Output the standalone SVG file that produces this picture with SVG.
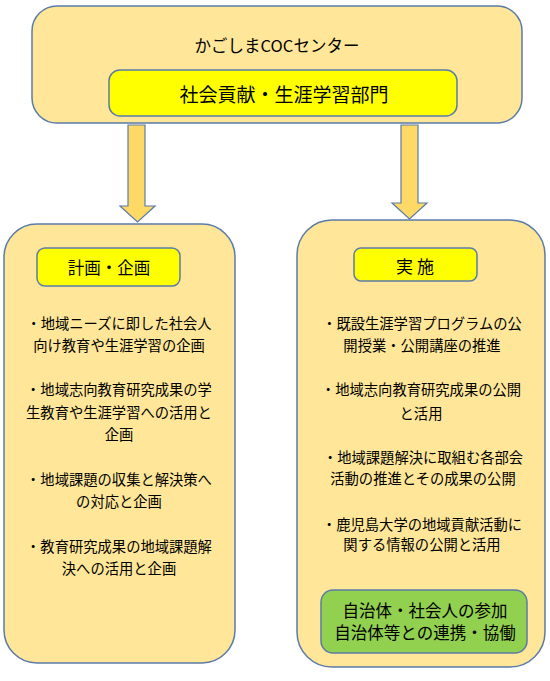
<svg xmlns="http://www.w3.org/2000/svg" width="550" height="681" viewBox="0 0 550 681">
<style>
.box{fill:#FFE699;stroke:#5B7BA8;stroke-width:1.5}
.lab{fill:#FFFF00;stroke:#5B7BA8;stroke-width:1.5}
.grn{fill:#92D050;stroke:#5B7BA8;stroke-width:1.5}
.arr{fill:#FFD966;stroke:#5B7BA8;stroke-width:1.2}
text{font-family:"Noto Sans CJK JP","Noto Sans",sans-serif;fill:#000;text-anchor:middle;dominant-baseline:central}
.t{font-size:14.3px}
</style>
<rect width="550" height="681" fill="#fff"/>
<g id="center">
<rect class="box" x="32" y="6" width="490" height="117" rx="25"/>
<text x="277" y="45" style="font-size:16.5px">かごしまCOCセンター</text>
</g>
<g id="dept">
<rect class="lab" x="109" y="70" width="348" height="46" rx="11"/>
<text x="284" y="93" style="font-size:19px">社会貢献・生涯学習部門</text>
</g>
<g id="connectors">
<path class="arr" d="M128,125 H145 V206 H155 L137.5,222 L120,206 H128 Z"/>
<path class="arr" d="M401,125 H418 V203 H427 L409.5,219 L392,203 H401 Z"/>
</g>
<g id="plan">
<rect class="box" x="4" y="224" width="231" height="439" rx="33"/>
</g>
<g id="plan-label">
<rect class="lab" x="37" y="248" width="143" height="38" rx="8"/>
<text x="109" y="267" style="font-size:16.5px">計画・企画</text>
</g>
<g id="plan-text">
<text class="t" x="119" y="322">・地域ニーズに即した社会人</text>
<text class="t" x="119" y="344">向け教育や生涯学習の企画</text>
<text class="t" x="119" y="388">・地域志向教育研究成果の学</text>
<text class="t" x="119" y="411">生教育や生涯学習への活用と</text>
<text class="t" x="119" y="433">企画</text>
<text class="t" x="119" y="478">・地域課題の収集と解決策へ</text>
<text class="t" x="119" y="500">の対応と企画</text>
<text class="t" x="119" y="545">・教育研究成果の地域課題解</text>
<text class="t" x="119" y="567">決への活用と企画</text>
</g>
<g id="impl">
<rect class="box" x="297" y="220" width="248" height="447" rx="35"/>
</g>
<g id="impl-label">
<rect class="lab" x="354" y="248" width="123" height="33" rx="7"/>
<text x="415" y="265" style="font-size:17px">実 施</text>
</g>
<g id="impl-text">
<text class="t" x="422" y="322">・既設生涯学習プログラムの公</text>
<text class="t" x="422" y="344">開授業・公開講座の推進</text>
<text class="t" x="421" y="388">・地域志向教育研究成果の公開</text>
<text class="t" x="421" y="412">と活用</text>
<text class="t" x="423" y="456">・地域課題解決に取組む各部会</text>
<text class="t" x="423" y="477">活動の推進とその成果の公開</text>
<text class="t" x="422" y="523">・鹿児島大学の地域貢献活動に</text>
<text class="t" x="422" y="543">関する情報の公開と活用</text>
</g>
<g id="partner">
<rect class="grn" x="321" y="590" width="206" height="63" rx="12"/>
<text x="425" y="610" style="font-size:16.5px">自治体・社会人の参加</text>
<text x="425" y="632" style="font-size:16.5px">自治体等との連携・協働</text>
</g>
</svg>
